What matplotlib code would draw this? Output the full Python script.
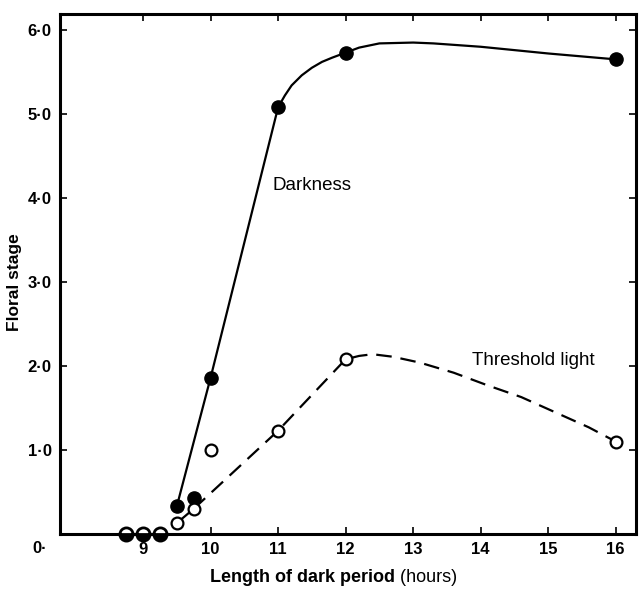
import matplotlib
matplotlib.use("Agg")
import matplotlib.pyplot as plt

plt.rcParams['font.family'] = ['Liberation Sans', 'DejaVu Sans']

# measured points (hours of darkness, floral stage)
hours = [8.75, 9, 9.25, 9.5, 9.75, 10, 11, 12, 16]
stage_dark = [0, 0, 0, 0.33, 0.43, 1.86, 5.08, 5.73, 5.65]
stage_light = [0, 0, 0, 0.13, 0.30, 1.0, 1.23, 2.08, 1.1]

# hand drawn curves
curve_dark_x = [9.5, 10, 11, 11.1, 11.2, 11.35, 11.5, 11.65, 11.8, 12, 12.2, 12.5,
                13.0, 13.3, 14, 14.5, 15, 16]
curve_dark_y = [0.33, 1.86, 5.08, 5.22, 5.34, 5.46, 5.55, 5.62, 5.67, 5.73, 5.79,
                5.84, 5.85, 5.84, 5.8, 5.76, 5.72, 5.65]
curve_light_x = [9.75, 11, 12, 12.2, 12.4, 12.7, 13.1, 13.6, 14.1, 14.6, 15.1, 15.6, 16]
curve_light_y = [0.30, 1.23, 2.08, 2.12, 2.14, 2.11, 2.04, 1.92, 1.77, 1.63, 1.45, 1.27, 1.1]

xticks = [9, 10, 11, 12, 13, 14, 15, 16]
yticks = [1, 2, 3, 4, 5, 6]
ylabels = ['1·0', '2·0', '3·0', '4·0', '5·0', '6·0']

fig = plt.figure(figsize=(6.41, 6.0), dpi=100)
ax = fig.add_axes([60/641, 66/600, 576/641, 520/600])

# curves
ax.plot(curve_dark_x, curve_dark_y, color='black', lw=1.6, zorder=2)
ax.plot(curve_light_x, curve_light_y, color='black', lw=1.6, dashes=(7, 4), zorder=2)
ax.plot(hours[3:5], stage_light[3:5], color='black', lw=1.6, zorder=2)

# markers
zero = [i for i in range(len(hours)) if stage_dark[i] == 0]
rest = [i for i in range(len(hours)) if stage_dark[i] != 0]
ax.plot([hours[i] for i in rest], [stage_dark[i] for i in rest], 'o', ms=9.5,
        mfc='black', mec='black', ls='none', zorder=4, clip_on=False)
ax.plot([hours[i] for i in rest], [stage_light[i] for i in rest], 'o', ms=8.5,
        mfc='white', mec='black', mew=1.6, ls='none', zorder=4, clip_on=False)
ax.plot([hours[i] for i in zero], [stage_dark[i] for i in zero], 'o', ms=9.5,
        fillstyle='bottom', mfc='black', mfcalt='white', mec='black', mew=2.0,
        ls='none', zorder=5, clip_on=False)

ax.set_xlim(7.77, 16.3)
ax.set_ylim(0, 6.19)
ax.set_xticks(xticks)
ax.set_xticklabels([str(t) for t in xticks])
ax.set_yticks(yticks)
ax.set_yticklabels(ylabels)
ax.tick_params(direction='in', length=5, width=1.2, top=True, right=True,
               labelsize=12, pad=6)
for lab in ax.get_xticklabels() + ax.get_yticklabels():
    lab.set_fontweight('bold')
for s in ax.spines.values():
    s.set_linewidth(2.2)

ax.text(7.47, -0.17, '0·', ha='center', va='center', fontsize=12,
        fontweight='bold', clip_on=False)

ax.text(10.91, 4.15, 'Darkness', fontsize=13.5, va='center', ha='left')
ax.text(13.87, 2.07, 'Threshold light', fontsize=13.5, va='center', ha='left')

fig.text(15/641, 1 - 282/600, 'Floral stage', rotation=90, ha='center',
         va='center', fontsize=12.5, fontweight='bold')
t1 = fig.text(395/641, 1 - 577/600, 'Length of dark period', ha='right',
              va='center', fontsize=13, fontweight='bold')
ax.annotate(' (hours)', xy=(1, 0.5), xycoords=t1, ha='left', va='center',
            fontsize=13)

fig.savefig('out.png', dpi=100)
